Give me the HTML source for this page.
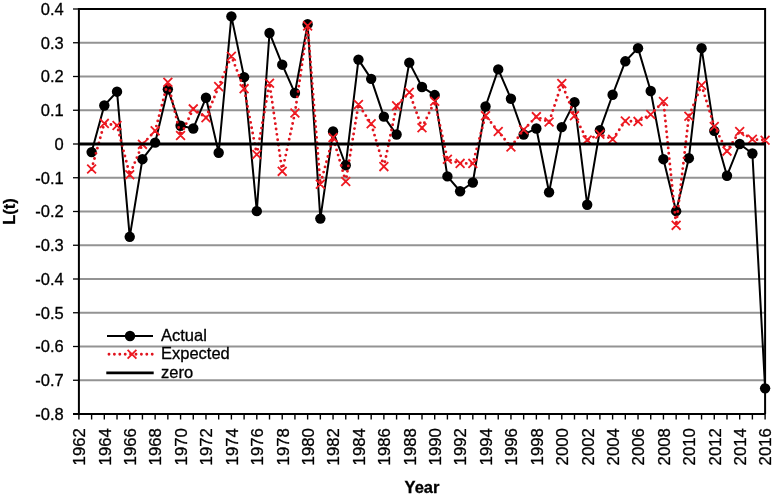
<!DOCTYPE html><html><head><meta charset="utf-8"><style>html,body{margin:0;padding:0;background:#fff;}svg{display:block;will-change:transform;}text{font-family:"Liberation Sans",sans-serif;stroke:#000;stroke-width:0.3px;}</style></head><body>
<svg width="774" height="497" viewBox="0 0 774 497">
<rect width="774" height="497" fill="#fff"/>
<line x1="78.90" y1="414.00" x2="765.10" y2="414.00" stroke="#939393" stroke-width="2.0"/>
<line x1="78.90" y1="380.25" x2="765.10" y2="380.25" stroke="#939393" stroke-width="2.0"/>
<line x1="78.90" y1="346.50" x2="765.10" y2="346.50" stroke="#939393" stroke-width="2.0"/>
<line x1="78.90" y1="312.75" x2="765.10" y2="312.75" stroke="#939393" stroke-width="2.0"/>
<line x1="78.90" y1="279.00" x2="765.10" y2="279.00" stroke="#939393" stroke-width="2.0"/>
<line x1="78.90" y1="245.25" x2="765.10" y2="245.25" stroke="#939393" stroke-width="2.0"/>
<line x1="78.90" y1="211.50" x2="765.10" y2="211.50" stroke="#939393" stroke-width="2.0"/>
<line x1="78.90" y1="177.75" x2="765.10" y2="177.75" stroke="#939393" stroke-width="2.0"/>
<line x1="78.90" y1="110.25" x2="765.10" y2="110.25" stroke="#939393" stroke-width="2.0"/>
<line x1="78.90" y1="76.50" x2="765.10" y2="76.50" stroke="#939393" stroke-width="2.0"/>
<line x1="78.90" y1="42.75" x2="765.10" y2="42.75" stroke="#939393" stroke-width="2.0"/>
<line x1="73" y1="414.00" x2="78.90" y2="414.00" stroke="#000" stroke-width="1.3"/>
<line x1="73" y1="380.25" x2="78.90" y2="380.25" stroke="#000" stroke-width="1.3"/>
<line x1="73" y1="346.50" x2="78.90" y2="346.50" stroke="#000" stroke-width="1.3"/>
<line x1="73" y1="312.75" x2="78.90" y2="312.75" stroke="#000" stroke-width="1.3"/>
<line x1="73" y1="279.00" x2="78.90" y2="279.00" stroke="#000" stroke-width="1.3"/>
<line x1="73" y1="245.25" x2="78.90" y2="245.25" stroke="#000" stroke-width="1.3"/>
<line x1="73" y1="211.50" x2="78.90" y2="211.50" stroke="#000" stroke-width="1.3"/>
<line x1="73" y1="177.75" x2="78.90" y2="177.75" stroke="#000" stroke-width="1.3"/>
<line x1="73" y1="144.00" x2="78.90" y2="144.00" stroke="#000" stroke-width="1.3"/>
<line x1="73" y1="110.25" x2="78.90" y2="110.25" stroke="#000" stroke-width="1.3"/>
<line x1="73" y1="76.50" x2="78.90" y2="76.50" stroke="#000" stroke-width="1.3"/>
<line x1="73" y1="42.75" x2="78.90" y2="42.75" stroke="#000" stroke-width="1.3"/>
<line x1="73" y1="9.00" x2="78.90" y2="9.00" stroke="#000" stroke-width="1.3"/>
<line x1="78.90" y1="414" x2="78.90" y2="419.5" stroke="#000" stroke-width="1.4"/>
<line x1="91.61" y1="414" x2="91.61" y2="419.5" stroke="#000" stroke-width="1.4"/>
<line x1="104.31" y1="414" x2="104.31" y2="419.5" stroke="#000" stroke-width="1.4"/>
<line x1="117.02" y1="414" x2="117.02" y2="419.5" stroke="#000" stroke-width="1.4"/>
<line x1="129.73" y1="414" x2="129.73" y2="419.5" stroke="#000" stroke-width="1.4"/>
<line x1="142.44" y1="414" x2="142.44" y2="419.5" stroke="#000" stroke-width="1.4"/>
<line x1="155.14" y1="414" x2="155.14" y2="419.5" stroke="#000" stroke-width="1.4"/>
<line x1="167.85" y1="414" x2="167.85" y2="419.5" stroke="#000" stroke-width="1.4"/>
<line x1="180.56" y1="414" x2="180.56" y2="419.5" stroke="#000" stroke-width="1.4"/>
<line x1="193.27" y1="414" x2="193.27" y2="419.5" stroke="#000" stroke-width="1.4"/>
<line x1="205.97" y1="414" x2="205.97" y2="419.5" stroke="#000" stroke-width="1.4"/>
<line x1="218.68" y1="414" x2="218.68" y2="419.5" stroke="#000" stroke-width="1.4"/>
<line x1="231.39" y1="414" x2="231.39" y2="419.5" stroke="#000" stroke-width="1.4"/>
<line x1="244.10" y1="414" x2="244.10" y2="419.5" stroke="#000" stroke-width="1.4"/>
<line x1="256.80" y1="414" x2="256.80" y2="419.5" stroke="#000" stroke-width="1.4"/>
<line x1="269.51" y1="414" x2="269.51" y2="419.5" stroke="#000" stroke-width="1.4"/>
<line x1="282.22" y1="414" x2="282.22" y2="419.5" stroke="#000" stroke-width="1.4"/>
<line x1="294.93" y1="414" x2="294.93" y2="419.5" stroke="#000" stroke-width="1.4"/>
<line x1="307.63" y1="414" x2="307.63" y2="419.5" stroke="#000" stroke-width="1.4"/>
<line x1="320.34" y1="414" x2="320.34" y2="419.5" stroke="#000" stroke-width="1.4"/>
<line x1="333.05" y1="414" x2="333.05" y2="419.5" stroke="#000" stroke-width="1.4"/>
<line x1="345.76" y1="414" x2="345.76" y2="419.5" stroke="#000" stroke-width="1.4"/>
<line x1="358.46" y1="414" x2="358.46" y2="419.5" stroke="#000" stroke-width="1.4"/>
<line x1="371.17" y1="414" x2="371.17" y2="419.5" stroke="#000" stroke-width="1.4"/>
<line x1="383.88" y1="414" x2="383.88" y2="419.5" stroke="#000" stroke-width="1.4"/>
<line x1="396.59" y1="414" x2="396.59" y2="419.5" stroke="#000" stroke-width="1.4"/>
<line x1="409.29" y1="414" x2="409.29" y2="419.5" stroke="#000" stroke-width="1.4"/>
<line x1="422.00" y1="414" x2="422.00" y2="419.5" stroke="#000" stroke-width="1.4"/>
<line x1="434.71" y1="414" x2="434.71" y2="419.5" stroke="#000" stroke-width="1.4"/>
<line x1="447.41" y1="414" x2="447.41" y2="419.5" stroke="#000" stroke-width="1.4"/>
<line x1="460.12" y1="414" x2="460.12" y2="419.5" stroke="#000" stroke-width="1.4"/>
<line x1="472.83" y1="414" x2="472.83" y2="419.5" stroke="#000" stroke-width="1.4"/>
<line x1="485.54" y1="414" x2="485.54" y2="419.5" stroke="#000" stroke-width="1.4"/>
<line x1="498.24" y1="414" x2="498.24" y2="419.5" stroke="#000" stroke-width="1.4"/>
<line x1="510.95" y1="414" x2="510.95" y2="419.5" stroke="#000" stroke-width="1.4"/>
<line x1="523.66" y1="414" x2="523.66" y2="419.5" stroke="#000" stroke-width="1.4"/>
<line x1="536.37" y1="414" x2="536.37" y2="419.5" stroke="#000" stroke-width="1.4"/>
<line x1="549.07" y1="414" x2="549.07" y2="419.5" stroke="#000" stroke-width="1.4"/>
<line x1="561.78" y1="414" x2="561.78" y2="419.5" stroke="#000" stroke-width="1.4"/>
<line x1="574.49" y1="414" x2="574.49" y2="419.5" stroke="#000" stroke-width="1.4"/>
<line x1="587.20" y1="414" x2="587.20" y2="419.5" stroke="#000" stroke-width="1.4"/>
<line x1="599.90" y1="414" x2="599.90" y2="419.5" stroke="#000" stroke-width="1.4"/>
<line x1="612.61" y1="414" x2="612.61" y2="419.5" stroke="#000" stroke-width="1.4"/>
<line x1="625.32" y1="414" x2="625.32" y2="419.5" stroke="#000" stroke-width="1.4"/>
<line x1="638.03" y1="414" x2="638.03" y2="419.5" stroke="#000" stroke-width="1.4"/>
<line x1="650.73" y1="414" x2="650.73" y2="419.5" stroke="#000" stroke-width="1.4"/>
<line x1="663.44" y1="414" x2="663.44" y2="419.5" stroke="#000" stroke-width="1.4"/>
<line x1="676.15" y1="414" x2="676.15" y2="419.5" stroke="#000" stroke-width="1.4"/>
<line x1="688.86" y1="414" x2="688.86" y2="419.5" stroke="#000" stroke-width="1.4"/>
<line x1="701.56" y1="414" x2="701.56" y2="419.5" stroke="#000" stroke-width="1.4"/>
<line x1="714.27" y1="414" x2="714.27" y2="419.5" stroke="#000" stroke-width="1.4"/>
<line x1="726.98" y1="414" x2="726.98" y2="419.5" stroke="#000" stroke-width="1.4"/>
<line x1="739.69" y1="414" x2="739.69" y2="419.5" stroke="#000" stroke-width="1.4"/>
<line x1="752.39" y1="414" x2="752.39" y2="419.5" stroke="#000" stroke-width="1.4"/>
<line x1="765.10" y1="414" x2="765.10" y2="419.5" stroke="#000" stroke-width="1.4"/>
<path d="M78.90 9.00 H765.10 V414.00" fill="none" stroke="#000" stroke-width="2.0"/>
<line x1="78.90" y1="8.00" x2="78.90" y2="415.00" stroke="#000" stroke-width="2.0"/>
<line x1="73" y1="414.00" x2="765.10" y2="414.00" stroke="#000" stroke-width="2.0"/>
<polyline points="91.61,152.10 104.31,105.53 117.02,91.69 129.73,236.81 142.44,159.19 155.14,142.65 167.85,89.32 180.56,125.78 193.27,128.47 205.97,97.76 218.68,152.78 231.39,16.42 244.10,77.17 256.80,211.16 269.51,32.96 282.22,64.69 294.93,93.04 307.63,24.19 320.34,218.59 333.05,131.51 345.76,165.26 358.46,59.62 371.17,78.86 383.88,116.66 396.59,134.55 409.29,62.66 422.00,86.96 434.71,95.06 447.41,176.40 460.12,191.25 472.83,182.47 485.54,106.54 498.24,69.41 510.95,98.78 523.66,134.55 536.37,128.47 549.07,192.26 561.78,127.12 574.49,102.15 587.20,204.75 599.90,130.16 612.61,94.72 625.32,61.31 638.03,48.15 650.73,91.01 663.44,159.19 676.15,211.16 688.86,158.18 701.56,48.15 714.27,130.84 726.98,175.72 739.69,144.00 752.39,153.45 765.10,388.35" fill="none" stroke="#000" stroke-width="2.0" stroke-linejoin="round"/>
<circle cx="91.61" cy="152.10" r="5.2" fill="#000"/>
<circle cx="104.31" cy="105.53" r="5.2" fill="#000"/>
<circle cx="117.02" cy="91.69" r="5.2" fill="#000"/>
<circle cx="129.73" cy="236.81" r="5.2" fill="#000"/>
<circle cx="142.44" cy="159.19" r="5.2" fill="#000"/>
<circle cx="155.14" cy="142.65" r="5.2" fill="#000"/>
<circle cx="167.85" cy="89.32" r="5.2" fill="#000"/>
<circle cx="180.56" cy="125.78" r="5.2" fill="#000"/>
<circle cx="193.27" cy="128.47" r="5.2" fill="#000"/>
<circle cx="205.97" cy="97.76" r="5.2" fill="#000"/>
<circle cx="218.68" cy="152.78" r="5.2" fill="#000"/>
<circle cx="231.39" cy="16.42" r="5.2" fill="#000"/>
<circle cx="244.10" cy="77.17" r="5.2" fill="#000"/>
<circle cx="256.80" cy="211.16" r="5.2" fill="#000"/>
<circle cx="269.51" cy="32.96" r="5.2" fill="#000"/>
<circle cx="282.22" cy="64.69" r="5.2" fill="#000"/>
<circle cx="294.93" cy="93.04" r="5.2" fill="#000"/>
<circle cx="307.63" cy="24.19" r="5.2" fill="#000"/>
<circle cx="320.34" cy="218.59" r="5.2" fill="#000"/>
<circle cx="333.05" cy="131.51" r="5.2" fill="#000"/>
<circle cx="345.76" cy="165.26" r="5.2" fill="#000"/>
<circle cx="358.46" cy="59.62" r="5.2" fill="#000"/>
<circle cx="371.17" cy="78.86" r="5.2" fill="#000"/>
<circle cx="383.88" cy="116.66" r="5.2" fill="#000"/>
<circle cx="396.59" cy="134.55" r="5.2" fill="#000"/>
<circle cx="409.29" cy="62.66" r="5.2" fill="#000"/>
<circle cx="422.00" cy="86.96" r="5.2" fill="#000"/>
<circle cx="434.71" cy="95.06" r="5.2" fill="#000"/>
<circle cx="447.41" cy="176.40" r="5.2" fill="#000"/>
<circle cx="460.12" cy="191.25" r="5.2" fill="#000"/>
<circle cx="472.83" cy="182.47" r="5.2" fill="#000"/>
<circle cx="485.54" cy="106.54" r="5.2" fill="#000"/>
<circle cx="498.24" cy="69.41" r="5.2" fill="#000"/>
<circle cx="510.95" cy="98.78" r="5.2" fill="#000"/>
<circle cx="523.66" cy="134.55" r="5.2" fill="#000"/>
<circle cx="536.37" cy="128.47" r="5.2" fill="#000"/>
<circle cx="549.07" cy="192.26" r="5.2" fill="#000"/>
<circle cx="561.78" cy="127.12" r="5.2" fill="#000"/>
<circle cx="574.49" cy="102.15" r="5.2" fill="#000"/>
<circle cx="587.20" cy="204.75" r="5.2" fill="#000"/>
<circle cx="599.90" cy="130.16" r="5.2" fill="#000"/>
<circle cx="612.61" cy="94.72" r="5.2" fill="#000"/>
<circle cx="625.32" cy="61.31" r="5.2" fill="#000"/>
<circle cx="638.03" cy="48.15" r="5.2" fill="#000"/>
<circle cx="650.73" cy="91.01" r="5.2" fill="#000"/>
<circle cx="663.44" cy="159.19" r="5.2" fill="#000"/>
<circle cx="676.15" cy="211.16" r="5.2" fill="#000"/>
<circle cx="688.86" cy="158.18" r="5.2" fill="#000"/>
<circle cx="701.56" cy="48.15" r="5.2" fill="#000"/>
<circle cx="714.27" cy="130.84" r="5.2" fill="#000"/>
<circle cx="726.98" cy="175.72" r="5.2" fill="#000"/>
<circle cx="739.69" cy="144.00" r="5.2" fill="#000"/>
<circle cx="752.39" cy="153.45" r="5.2" fill="#000"/>
<circle cx="765.10" cy="388.35" r="5.2" fill="#000"/>
<polyline points="91.61,168.97 104.31,123.41 117.02,125.44 129.73,174.71 142.44,144.34 155.14,130.84 167.85,82.24 180.56,135.56 193.27,108.90 205.97,117.67 218.68,86.62 231.39,56.25 244.10,88.65 256.80,154.46 269.51,83.25 282.22,171.34 294.93,112.95 307.63,25.88 320.34,184.16 333.05,137.59 345.76,181.46 358.46,104.51 371.17,123.75 383.88,166.61 396.59,105.86 409.29,92.36 422.00,127.80 434.71,101.31 447.41,159.19 460.12,163.41 472.83,163.41 485.54,115.65 498.24,131.51 510.95,147.04 523.66,129.82 536.37,116.66 549.07,122.06 561.78,83.59 574.49,115.65 587.20,139.95 599.90,134.21 612.61,139.28 625.32,121.05 638.03,121.39 650.73,114.47 663.44,101.47 676.15,225.34 688.86,116.33 701.56,85.28 714.27,126.45 726.98,151.09 739.69,131.51 752.39,139.28 765.10,140.29" fill="none" stroke="#e0141e" stroke-width="2.9" stroke-dasharray="0 5.4" stroke-linecap="round" stroke-linejoin="round"/>
<path d="M87.21 164.57L96.01 173.38M87.21 173.38L96.01 164.57M99.91 119.01L108.71 127.81M99.91 127.81L108.71 119.01M112.62 121.04L121.42 129.84M112.62 129.84L121.42 121.04M125.33 170.31L134.13 179.11M125.33 179.11L134.13 170.31M138.04 139.94L146.84 148.74M138.04 148.74L146.84 139.94M150.74 126.44L159.54 135.24M150.74 135.24L159.54 126.44M163.45 77.84L172.25 86.64M163.45 86.64L172.25 77.84M176.16 131.16L184.96 139.96M176.16 139.96L184.96 131.16M188.87 104.50L197.67 113.30M188.87 113.30L197.67 104.50M201.57 113.27L210.37 122.08M201.57 122.08L210.37 113.27M214.28 82.22L223.08 91.03M214.28 91.03L223.08 82.22M226.99 51.85L235.79 60.65M226.99 60.65L235.79 51.85M239.70 84.25L248.50 93.05M239.70 93.05L248.50 84.25M252.40 150.06L261.20 158.86M252.40 158.86L261.20 150.06M265.11 78.85L273.91 87.65M265.11 87.65L273.91 78.85M277.82 166.94L286.62 175.74M277.82 175.74L286.62 166.94M290.53 108.55L299.33 117.35M290.53 117.35L299.33 108.55M303.23 21.48L312.03 30.28M303.23 30.28L312.03 21.48M315.94 179.76L324.74 188.56M315.94 188.56L324.74 179.76M328.65 133.19L337.45 141.99M328.65 141.99L337.45 133.19M341.36 177.06L350.16 185.86M341.36 185.86L350.16 177.06M354.06 100.11L362.86 108.91M354.06 108.91L362.86 100.11M366.77 119.35L375.57 128.15M366.77 128.15L375.57 119.35M379.48 162.21L388.28 171.01M379.48 171.01L388.28 162.21M392.19 101.46L400.99 110.26M392.19 110.26L400.99 101.46M404.89 87.96L413.69 96.76M404.89 96.76L413.69 87.96M417.60 123.40L426.40 132.20M417.60 132.20L426.40 123.40M430.31 96.91L439.11 105.71M430.31 105.71L439.11 96.91M443.01 154.79L451.81 163.59M443.01 163.59L451.81 154.79M455.72 159.01L464.52 167.81M455.72 167.81L464.52 159.01M468.43 159.01L477.23 167.81M468.43 167.81L477.23 159.01M481.14 111.25L489.94 120.05M481.14 120.05L489.94 111.25M493.84 127.11L502.64 135.91M493.84 135.91L502.64 127.11M506.55 142.64L515.35 151.44M506.55 151.44L515.35 142.64M519.26 125.42L528.06 134.22M519.26 134.22L528.06 125.42M531.97 112.26L540.77 121.06M531.97 121.06L540.77 112.26M544.67 117.66L553.47 126.46M544.67 126.46L553.47 117.66M557.38 79.19L566.18 87.99M557.38 87.99L566.18 79.19M570.09 111.25L578.89 120.05M570.09 120.05L578.89 111.25M582.80 135.55L591.60 144.35M582.80 144.35L591.60 135.55M595.50 129.81L604.30 138.61M595.50 138.61L604.30 129.81M608.21 134.88L617.01 143.68M608.21 143.68L617.01 134.88M620.92 116.65L629.72 125.45M620.92 125.45L629.72 116.65M633.63 116.99L642.43 125.79M633.63 125.79L642.43 116.99M646.33 110.07L655.13 118.87M646.33 118.87L655.13 110.07M659.04 97.07L667.84 105.88M659.04 105.88L667.84 97.07M671.75 220.94L680.55 229.74M671.75 229.74L680.55 220.94M684.46 111.92L693.26 120.73M684.46 120.73L693.26 111.92M697.16 80.88L705.96 89.68M697.16 89.68L705.96 80.88M709.87 122.05L718.67 130.85M709.87 130.85L718.67 122.05M722.58 146.69L731.38 155.49M722.58 155.49L731.38 146.69M735.29 127.11L744.09 135.91M735.29 135.91L744.09 127.11M747.99 134.88L756.79 143.68M747.99 143.68L756.79 134.88M760.70 135.89L769.50 144.69M760.70 144.69L769.50 135.89" stroke="#ee1a22" stroke-width="1.8" fill="none"/>
<line x1="78.90" y1="144.00" x2="765.10" y2="144.00" stroke="#000" stroke-width="2.8"/>
<text x="63.80" y="419.80" font-size="16.5" text-anchor="end">-0.8</text>
<text x="63.80" y="386.05" font-size="16.5" text-anchor="end">-0.7</text>
<text x="63.80" y="352.30" font-size="16.5" text-anchor="end">-0.6</text>
<text x="63.80" y="318.55" font-size="16.5" text-anchor="end">-0.5</text>
<text x="63.80" y="284.80" font-size="16.5" text-anchor="end">-0.4</text>
<text x="63.80" y="251.05" font-size="16.5" text-anchor="end">-0.3</text>
<text x="63.80" y="217.30" font-size="16.5" text-anchor="end">-0.2</text>
<text x="63.80" y="183.55" font-size="16.5" text-anchor="end">-0.1</text>
<text x="63.80" y="149.80" font-size="16.5" text-anchor="end">0</text>
<text x="63.80" y="116.05" font-size="16.5" text-anchor="end">0.1</text>
<text x="63.80" y="82.30" font-size="16.5" text-anchor="end">0.2</text>
<text x="63.80" y="48.55" font-size="16.5" text-anchor="end">0.3</text>
<text x="63.80" y="14.80" font-size="16.5" text-anchor="end">0.4</text>
<text transform="translate(85.20,428.20) rotate(-90) scale(1.045,1)" font-size="16.0" text-anchor="end">1962</text>
<text transform="translate(110.61,428.20) rotate(-90) scale(1.045,1)" font-size="16.0" text-anchor="end">1964</text>
<text transform="translate(136.03,428.20) rotate(-90) scale(1.045,1)" font-size="16.0" text-anchor="end">1966</text>
<text transform="translate(161.44,428.20) rotate(-90) scale(1.045,1)" font-size="16.0" text-anchor="end">1968</text>
<text transform="translate(186.86,428.20) rotate(-90) scale(1.045,1)" font-size="16.0" text-anchor="end">1970</text>
<text transform="translate(212.27,428.20) rotate(-90) scale(1.045,1)" font-size="16.0" text-anchor="end">1972</text>
<text transform="translate(237.69,428.20) rotate(-90) scale(1.045,1)" font-size="16.0" text-anchor="end">1974</text>
<text transform="translate(263.10,428.20) rotate(-90) scale(1.045,1)" font-size="16.0" text-anchor="end">1976</text>
<text transform="translate(288.52,428.20) rotate(-90) scale(1.045,1)" font-size="16.0" text-anchor="end">1978</text>
<text transform="translate(313.93,428.20) rotate(-90) scale(1.045,1)" font-size="16.0" text-anchor="end">1980</text>
<text transform="translate(339.35,428.20) rotate(-90) scale(1.045,1)" font-size="16.0" text-anchor="end">1982</text>
<text transform="translate(364.76,428.20) rotate(-90) scale(1.045,1)" font-size="16.0" text-anchor="end">1984</text>
<text transform="translate(390.18,428.20) rotate(-90) scale(1.045,1)" font-size="16.0" text-anchor="end">1986</text>
<text transform="translate(415.59,428.20) rotate(-90) scale(1.045,1)" font-size="16.0" text-anchor="end">1988</text>
<text transform="translate(441.01,428.20) rotate(-90) scale(1.045,1)" font-size="16.0" text-anchor="end">1990</text>
<text transform="translate(466.42,428.20) rotate(-90) scale(1.045,1)" font-size="16.0" text-anchor="end">1992</text>
<text transform="translate(491.84,428.20) rotate(-90) scale(1.045,1)" font-size="16.0" text-anchor="end">1994</text>
<text transform="translate(517.25,428.20) rotate(-90) scale(1.045,1)" font-size="16.0" text-anchor="end">1996</text>
<text transform="translate(542.67,428.20) rotate(-90) scale(1.045,1)" font-size="16.0" text-anchor="end">1998</text>
<text transform="translate(568.08,428.20) rotate(-90) scale(1.045,1)" font-size="16.0" text-anchor="end">2000</text>
<text transform="translate(593.50,428.20) rotate(-90) scale(1.045,1)" font-size="16.0" text-anchor="end">2002</text>
<text transform="translate(618.91,428.20) rotate(-90) scale(1.045,1)" font-size="16.0" text-anchor="end">2004</text>
<text transform="translate(644.33,428.20) rotate(-90) scale(1.045,1)" font-size="16.0" text-anchor="end">2006</text>
<text transform="translate(669.74,428.20) rotate(-90) scale(1.045,1)" font-size="16.0" text-anchor="end">2008</text>
<text transform="translate(695.16,428.20) rotate(-90) scale(1.045,1)" font-size="16.0" text-anchor="end">2010</text>
<text transform="translate(720.57,428.20) rotate(-90) scale(1.045,1)" font-size="16.0" text-anchor="end">2012</text>
<text transform="translate(745.99,428.20) rotate(-90) scale(1.045,1)" font-size="16.0" text-anchor="end">2014</text>
<text transform="translate(771.40,428.20) rotate(-90) scale(1.045,1)" font-size="16.0" text-anchor="end">2016</text>
<text x="422" y="492.5" font-size="16.5" font-weight="bold" text-anchor="middle">Year</text>
<text transform="translate(15,211.5) rotate(-90)" font-size="16.5" font-weight="bold" text-anchor="middle">L(t)</text>
<line x1="107" y1="336" x2="153" y2="336" stroke="#000" stroke-width="2"/>
<circle cx="130" cy="336" r="5.2" fill="#000"/>
<line x1="109" y1="354.2" x2="153" y2="354.2" stroke="#e0141e" stroke-width="2.9" stroke-dasharray="0 5.4" stroke-linecap="round"/>
<path d="M127.60 349.90L136.40 358.70M127.60 358.70L136.40 349.90" stroke="#ee1a22" stroke-width="1.8"/>
<line x1="106.3" y1="372.8" x2="153.7" y2="372.8" stroke="#000" stroke-width="2.8"/>
<text x="161" y="341.2" font-size="16.5">Actual</text>
<text x="161" y="359.3" font-size="16.5">Expected</text>
<text x="161" y="377.5" font-size="16.5">zero</text>
</svg></body></html>
